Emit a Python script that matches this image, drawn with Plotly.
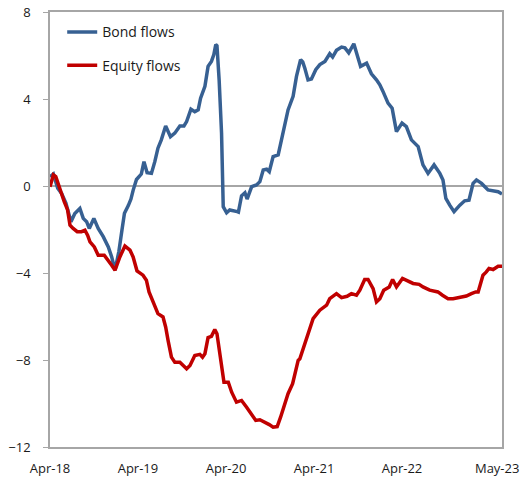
import plotly.graph_objects as go

bond_dates = [
    "2018-04-01", "2018-04-15", "2018-05-03", "2018-05-19", "2018-06-06", "2018-06-27",
    "2018-07-13", "2018-08-03", "2018-08-17", "2018-08-31", "2018-09-11", "2018-09-30",
    "2018-10-18", "2018-11-08", "2018-11-29", "2018-12-13", "2018-12-27", "2019-01-12",
    "2019-01-25", "2019-02-04", "2019-02-20", "2019-03-03", "2019-03-12", "2019-03-26",
    "2019-04-15", "2019-04-26", "2019-05-09", "2019-05-27", "2019-06-10", "2019-06-23",
    "2019-07-07", "2019-07-25", "2019-08-14", "2019-09-01", "2019-09-22", "2019-10-09",
    "2019-10-20", "2019-11-07", "2019-11-23", "2019-12-07", "2019-12-17", "2020-01-04",
    "2020-01-17", "2020-01-31", "2020-02-10", "2020-02-18", "2020-02-23", "2020-03-03",
    "2020-03-13", "2020-03-20", "2020-04-03", "2020-04-16", "2020-05-17", "2020-05-22",
    "2020-06-04", "2020-06-18", "2020-06-27", "2020-07-16", "2020-08-05", "2020-08-19",
    "2020-09-02", "2020-09-16", "2020-09-27", "2020-10-13", "2020-11-03", "2020-11-17",
    "2020-12-01", "2020-12-14", "2021-01-04", "2021-01-18", "2021-02-04", "2021-02-13",
    "2021-02-22", "2021-03-07", "2021-03-21", "2021-04-08", "2021-04-25", "2021-05-16",
    "2021-06-05", "2021-06-17", "2021-07-03", "2021-07-24", "2021-08-07", "2021-08-23",
    "2021-09-13", "2021-09-24", "2021-10-11", "2021-11-05", "2021-11-25", "2021-12-16",
    "2021-12-30", "2022-01-12", "2022-02-02", "2022-02-19", "2022-03-09", "2022-04-01",
    "2022-04-19", "2022-05-10", "2022-06-07", "2022-06-27", "2022-07-18", "2022-08-12",
    "2022-09-05", "2022-09-18", "2022-09-30", "2022-10-16", "2022-11-03", "2022-11-27",
    "2022-12-17", "2023-01-04", "2023-01-21", "2023-02-04", "2023-02-25", "2023-03-24",
    "2023-04-14", "2023-05-05", "2023-05-21",
]
bond_flows = [
    0.43, 0.55, -0.10, -0.34, -0.78, -1.64,
    -1.26, -1.03, -1.49, -1.64, -1.95, -1.49,
    -1.95, -2.33, -2.80, -3.26, -3.87, -3.00,
    -2.00, -1.25, -0.90, -0.60, -0.20, 0.30,
    0.55, 1.12, 0.61, 0.58, 1.12, 1.74,
    2.12, 2.76, 2.27, 2.43, 2.76, 2.76,
    2.96, 3.53, 3.42, 3.50, 4.04, 4.58,
    5.50, 5.73, 6.04, 6.50, 6.45, 4.88,
    2.43, -0.95, -1.23, -1.10, -1.18, -1.20,
    -0.45, -0.31, -0.60, -0.03, 0.05, 0.20,
    0.74, 0.77, 0.66, 1.35, 1.43, 2.12,
    2.73, 3.50, 4.12, 5.04, 5.81, 5.70,
    5.40, 4.88, 4.92, 5.35, 5.58, 5.73,
    6.08, 5.93, 6.24, 6.39, 6.35, 6.12,
    6.54, 6.12, 5.50, 5.65, 5.16, 4.88,
    4.65, 4.35, 3.81, 3.58, 2.50, 2.89,
    2.73, 2.12, 1.81, 0.97, 0.58, 0.97,
    0.58, 0.28, -0.57, -0.88, -1.18, -0.88,
    -0.68, -0.65, 0.12, 0.28, 0.12, -0.18,
    -0.22, -0.26, -0.37,
]

equity_dates = [
    "2018-04-01", "2018-04-15", "2018-04-25", "2018-05-12", "2018-05-30", "2018-06-13",
    "2018-06-23", "2018-07-06", "2018-07-23", "2018-08-10", "2018-08-24", "2018-09-04",
    "2018-09-14", "2018-10-02", "2018-10-18", "2018-11-12", "2018-11-29", "2018-12-13",
    "2018-12-27", "2019-01-16", "2019-02-06", "2019-02-27", "2019-03-12", "2019-03-28",
    "2019-04-22", "2019-05-06", "2019-05-17", "2019-06-02", "2019-06-23", "2019-07-14",
    "2019-07-25", "2019-08-04", "2019-08-18", "2019-09-01", "2019-09-22", "2019-10-06",
    "2019-10-20", "2019-11-03", "2019-11-23", "2019-12-14", "2019-12-25", "2020-01-04",
    "2020-01-17", "2020-01-31", "2020-02-14", "2020-02-23", "2020-03-03", "2020-03-13",
    "2020-03-23", "2020-04-10", "2020-04-24", "2020-05-14", "2020-06-04", "2020-06-25",
    "2020-07-16", "2020-08-02", "2020-08-19", "2020-09-09", "2020-09-27", "2020-10-13",
    "2020-10-30", "2020-11-13", "2020-11-27", "2020-12-14", "2021-01-02", "2021-01-14",
    "2021-01-25", "2021-02-01", "2021-02-22", "2021-03-15", "2021-03-28", "2021-04-25",
    "2021-05-23", "2021-06-05", "2021-07-03", "2021-07-24", "2021-08-16", "2021-09-03",
    "2021-09-24", "2021-10-08", "2021-10-28", "2021-11-11", "2021-12-02", "2021-12-16",
    "2021-12-30", "2022-01-15", "2022-02-07", "2022-02-21", "2022-03-09", "2022-04-03",
    "2022-04-26", "2022-05-17", "2022-06-11", "2022-06-27", "2022-07-25", "2022-08-28",
    "2022-09-16", "2022-10-09", "2022-10-30", "2022-11-27", "2022-12-24", "2023-01-14",
    "2023-02-01", "2023-02-11", "2023-02-21", "2023-03-03", "2023-03-17", "2023-03-28",
    "2023-04-14", "2023-05-05", "2023-05-21",
]
equity_flows = [
    -0.03, 0.51, 0.43, -0.18, -0.72, -1.10,
    -1.80, -1.95, -2.10, -2.10, -2.03, -2.26,
    -2.57, -2.80, -3.18, -3.18, -3.41, -3.64,
    -3.87, -3.26, -2.76, -2.95, -3.26, -3.90,
    -4.10, -4.33, -4.87, -5.33, -5.87, -6.02,
    -6.48, -7.10, -7.87, -8.10, -8.10, -8.25,
    -8.40, -8.25, -7.79, -7.74, -7.87, -7.71,
    -6.97, -6.91, -6.60, -6.79, -7.56, -8.33,
    -9.02, -9.02, -9.48, -9.94, -9.86, -10.17,
    -10.55, -10.78, -10.75, -10.86, -10.97, -11.09,
    -11.06, -10.63, -10.17, -9.55, -9.09, -8.48,
    -8.02, -7.94, -7.25, -6.48, -6.10, -5.71,
    -5.48, -5.18, -4.95, -5.13, -5.07, -4.95,
    -5.02, -4.79, -4.30, -4.30, -4.72, -5.33,
    -5.18, -4.79, -4.64, -4.30, -4.64, -4.25,
    -4.36, -4.48, -4.52, -4.64, -4.79, -4.87,
    -5.02, -5.18, -5.18, -5.10, -5.06, -4.95,
    -4.87, -4.87, -4.40, -4.10, -3.95, -3.79,
    -3.84, -3.69, -3.69,
]

x_tick_dates = ["2018-04-01", "2019-04-01", "2020-04-01", "2021-04-01", "2022-04-01", "2023-05-01"]
x_tick_labels = ["Apr-18", "Apr-19", "Apr-20", "Apr-21", "Apr-22", "May-23"]
y_ticks = [-12, -8, -4, 0, 4, 8]

BLUE = "#376092"
RED = "#C00000"
AXIS = "#A6A6A6"
FONT = "Open Sans, Noto Sans, sans-serif"

fig = go.Figure()
fig.add_trace(go.Scatter(x=bond_dates, y=bond_flows, mode="lines", name="Bond flows",
                         legendgroup="a", line=dict(color=BLUE, width=3.5)))
fig.add_trace(go.Scatter(x=equity_dates, y=equity_flows, mode="lines", name="Equity flows",
                         legendgroup="b", line=dict(color=RED, width=3.5)))

fig.update_layout(
    width=527, height=485,
    margin=dict(l=50, r=25, t=12, b=38, autoexpand=False),
    paper_bgcolor="white", plot_bgcolor="white",
    font=dict(family=FONT, size=13, color="#1a1a1a"),
    showlegend=True,
    legend=dict(x=0.027, y=0.99, xanchor="left", yanchor="top",
                bgcolor="rgba(0,0,0,0)", font=dict(size=14, color="#1a1a1a"),
                tracegroupgap=12, itemwidth=30),
    xaxis=dict(type="date", range=["2018-04-01", "2023-05-21"],
               tickvals=x_tick_dates, ticktext=x_tick_labels, automargin=False,
               showgrid=False, zeroline=False, showline=True, linecolor=AXIS,
               linewidth=1.5, mirror=True, ticks="", ticklabelstandoff=9),
    yaxis=dict(range=[-12, 8], tickvals=y_ticks, showgrid=False, automargin=False,
               zeroline=True, zerolinecolor=AXIS, zerolinewidth=1.5,
               showline=True, linecolor=AXIS, linewidth=1.5, mirror=True,
               ticks="outside", ticklen=5, tickcolor=AXIS, ticklabelstandoff=10),
)

fig.write_html("out.html")
